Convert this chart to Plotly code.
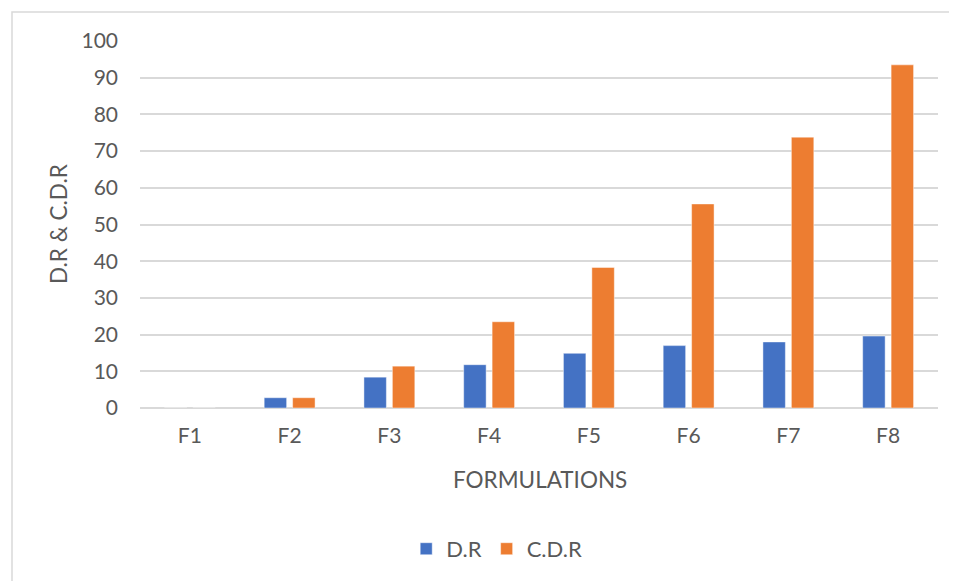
import plotly.graph_objects as go

categories = ["F1", "F2", "F3", "F4", "F5", "F6", "F7", "F8"]
dr_values = [0, 2.8, 8.4, 11.8, 14.9, 17.0, 18.0, 19.6]
cdr_values = [0, 2.8, 11.4, 23.5, 38.3, 55.6, 73.8, 93.5]
y_ticks = [0, 10, 20, 30, 40, 50, 60, 70, 80, 90, 100]

FONT = "Lato, Open Sans, sans-serif"
TXT = "#595959"

fig = go.Figure()
fig.add_trace(go.Bar(x=categories, y=dr_values, name="D.R",
                     marker=dict(color="#4472C4", line=dict(color="rgba(255,255,255,0.45)", width=1))))
fig.add_trace(go.Bar(x=categories, y=cdr_values, name="C.D.R",
                     marker=dict(color="#ED7D31", line=dict(color="rgba(255,255,255,0.45)", width=1))))

fig.update_layout(
    width=957, height=581,
    margin=dict(l=132, r=27, t=33, b=181),
    paper_bgcolor="white", plot_bgcolor="white",
    barmode="group", bargap=0.43, bargroupgap=0.21,
    font=dict(family=FONT, color=TXT, size=21),
    showlegend=True,
    legend=dict(orientation="h", x=0.447, xanchor="center", y=-0.384, yanchor="middle",
                font=dict(size=22, color=TXT), itemwidth=30, traceorder="normal"),
)
fig.update_xaxes(showgrid=False, showline=False, ticks="", ticklabelstandoff=13,
                 tickfont=dict(size=21, color=TXT))
fig.update_yaxes(range=[0, 100], tickvals=y_ticks, showgrid=True, gridcolor="#D9D9D9", gridwidth=1.5,
                 zeroline=True, zerolinecolor="#D9D9D9", zerolinewidth=1.5, showline=False,
                 ticks="", ticklabelstandoff=21, tickfont=dict(size=21, color=TXT))

fig.add_annotation(text="D.R &amp; C.D.R", xref="paper", yref="paper", x=-0.1028, y=0.501,
                   textangle=-90, showarrow=False, font=dict(size=22.5, color=TXT),
                   xanchor="center", yanchor="middle")
fig.add_annotation(text="FORMULATIONS", xref="paper", yref="paper", x=0.501, y=-0.1935,
                   showarrow=False, font=dict(size=22.5, color=TXT), xanchor="center", yanchor="middle")

fig.add_shape(type="rect", xref="paper", yref="paper", x0=-0.1604, y0=-0.7, x1=1.2, y1=1.079,
              line=dict(color="#D9D9D9", width=1.5), fillcolor="rgba(0,0,0,0)", layer="below")

fig.write_html("out.html")
